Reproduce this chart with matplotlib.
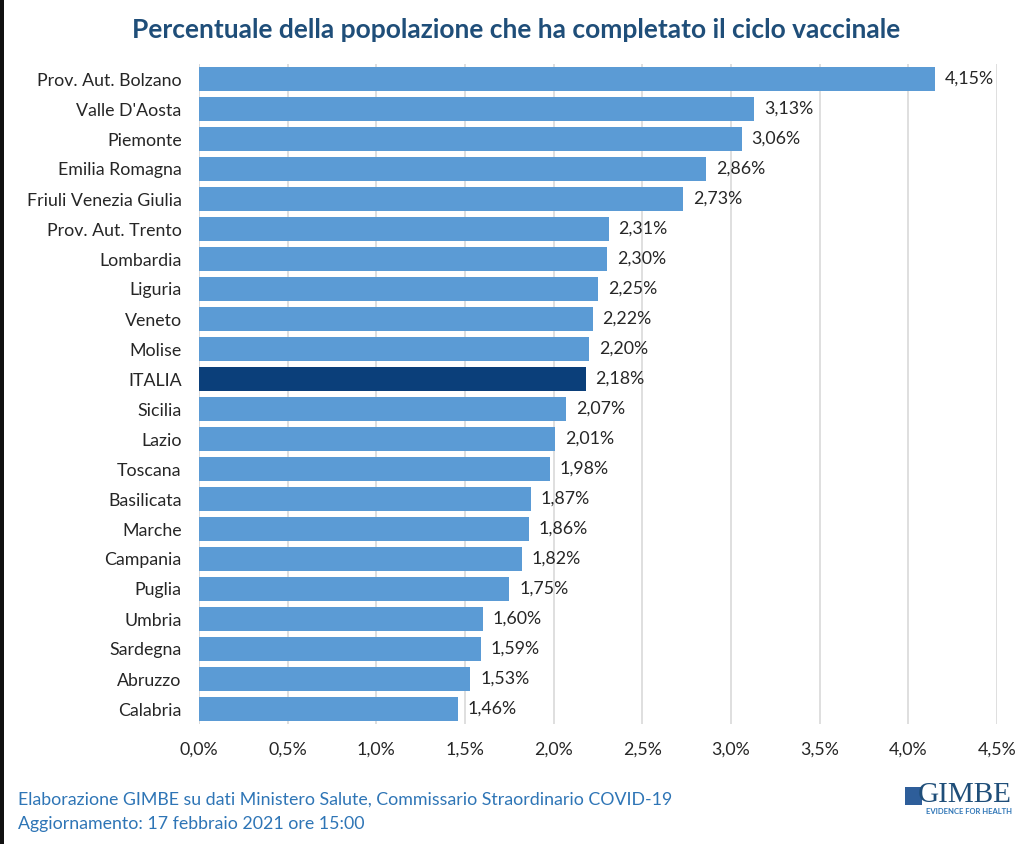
import matplotlib
matplotlib.use("Agg")
import matplotlib.pyplot as plt
from matplotlib.patches import Rectangle
import numpy as np

regions = ["Prov. Aut. Bolzano", "Valle D'Aosta", "Piemonte", "Emilia Romagna",
           "Friuli Venezia Giulia", "Prov. Aut. Trento", "Lombardia", "Liguria",
           "Veneto", "Molise", "ITALIA", "Sicilia", "Lazio", "Toscana", "Basilicata",
           "Marche", "Campania", "Puglia", "Umbria", "Sardegna", "Abruzzo", "Calabria"]
values = [4.15, 3.13, 3.06, 2.86, 2.73, 2.31, 2.30, 2.25, 2.22, 2.20, 2.18, 2.07,
          2.01, 1.98, 1.87, 1.86, 1.82, 1.75, 1.60, 1.59, 1.53, 1.46]
xticks = [0.0, 0.5, 1.0, 1.5, 2.0, 2.5, 3.0, 3.5, 4.0, 4.5]

title = "Percentuale della popolazione che ha completato il ciclo vaccinale"
footer1 = "Elaborazione GIMBE su dati Ministero Salute, Commissario Straordinario COVID-19"
footer2 = "Aggiornamento: 17 febbraio 2021 ore 15:00"

plt.rcParams['font.family'] = ['Lato', 'DejaVu Sans']

W, H = 1023, 844
fig = plt.figure(figsize=(W/100, H/100), dpi=100)
fig.patch.set_facecolor('white')
ax = fig.add_axes([199/W, 1-724/H, (997-199)/W, (724-64)/H])

TXT = '#262626'
FS = 12.8
y = np.arange(len(regions))
colors = ['#0B3F7A' if r == 'ITALIA' else '#5B9BD5' for r in regions]
ax.barh(y, values, height=0.8, color=colors, zorder=3)
ax.set_ylim(len(regions)-0.5, -0.5)
ax.set_xlim(0, 4.5)
ax.set_yticks(y)
ax.set_yticklabels(regions, fontsize=FS, color=TXT)
ax.set_xticks(xticks)
ax.set_xticklabels([f"{t:.1f}%".replace('.', ',') for t in xticks], fontsize=FS, color=TXT)
ax.tick_params(axis='both', length=0)
ax.tick_params(axis='y', pad=12.5)
ax.tick_params(axis='x', pad=13)
for s in ax.spines.values():
    s.set_visible(False)
ax.grid(axis='x', color='#D9D9D9', linewidth=1.2, zorder=0)
ax.axvline(0, color='#D9D9D9', linewidth=1.2, zorder=1)

for yi, v in zip(y, values):
    ax.text(v + 0.055, yi, f"{v:.2f}%".replace('.', ','), va='center', ha='left',
            fontsize=FS, color=TXT, zorder=4)

fig.text(516/W, 1-30/H, title, ha='center', va='center', fontsize=19,
         fontweight='bold', color='#1F4E79')
fig.text(18/W, 1-800/H, footer1, ha='left', va='center', fontsize=12.8, color='#2E75B6')
fig.text(18/W, 1-824/H, footer2, ha='left', va='center', fontsize=12.8, color='#2E75B6')

# GIMBE logo
fig.text(1012/W, 1-795/H, "GIMBE", ha='right', va='center', fontsize=21,
         family='Liberation Serif', color='#1F4E79')
fig.text(1012/W, 1-812/H, "EVIDENCE FOR HEALTH", ha='right', va='center', fontsize=5.5,
         fontweight='bold', color='#2E75B6')
fig.patches.append(Rectangle((905/W, 1-805/H), 17/W, 18/H, transform=fig.transFigure,
                             facecolor='#2E5E9A', edgecolor='none'))

# left dark border
fig.patches.append(Rectangle((0, 0), 4/W, 1, transform=fig.transFigure,
                             facecolor='#111111', edgecolor='none'))

fig.savefig('out.png', dpi=100)
